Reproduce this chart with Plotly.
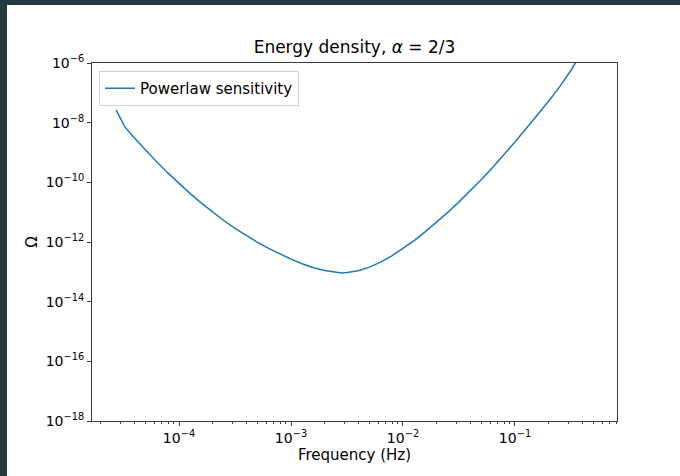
import plotly.graph_objects as go

# Data (log10 of frequency in Hz, log10 of Omega)
log_freq = [-4.563, -4.482, -4.4, -4.3, -4.2, -4.1, -4.0, -3.9, -3.8, -3.7, -3.6, -3.5,
            -3.4, -3.3, -3.2, -3.1, -3.0, -2.9, -2.8, -2.7, -2.6, -2.55, -2.5, -2.4,
            -2.3, -2.2, -2.1, -2.0, -1.9, -1.8, -1.7, -1.6, -1.5, -1.4, -1.3, -1.2,
            -1.1, -1.0, -0.9, -0.8, -0.7, -0.6, -0.5, -0.4, -0.3]
log_omega = [-7.570, -8.151, -8.503, -8.915, -9.309, -9.684, -10.040, -10.378, -10.697,
             -10.998, -11.280, -11.543, -11.788, -12.012, -12.215, -12.400, -12.575,
             -12.730, -12.860, -12.955, -13.015, -13.035, -13.026, -12.962, -12.841,
             -12.673, -12.468, -12.226, -11.955, -11.651, -11.337, -11.005, -10.656,
             -10.290, -9.906, -9.504, -9.084, -8.646, -8.196, -7.746, -7.282, -6.791,
             -6.242, -5.622, -4.970]
freq = [10 ** v for v in log_freq]
omega = [10 ** v for v in log_omega]

x_tickvals = [1e-4, 1e-3, 1e-2, 1e-1]
x_ticktext = ["10<sup>−4</sup>", "10<sup>−3</sup>", "10<sup>−2</sup>", "10<sup>−1</sup>"]
y_tickvals = [1e-6, 1e-8, 1e-10, 1e-12, 1e-14, 1e-16, 1e-18]
y_ticktext = ["10<sup>−6</sup>", "10<sup>−8</sup>", "10<sup>−10</sup>", "10<sup>−12</sup>",
              "10<sup>−14</sup>", "10<sup>−16</sup>", "10<sup>−18</sup>"]

minor_x = [m * 10 ** e for e in range(-5, 1) for m in range(2, 10)]

FONT = "DejaVu Sans"
W, H = 680, 476
L, R, T, B = 92, 63, 63, 55
pw, ph = W - L - R, H - T - B

fig = go.Figure()
fig.add_trace(go.Scatter(x=freq, y=omega, mode="lines", name="Powerlaw sensitivity",
                         line=dict(color="#1f77b4", width=1.5)))

axis_common = dict(showline=True, linecolor="#3a3a3a", linewidth=1, mirror=True,
                   ticks="outside", ticklen=4, tickwidth=1, tickcolor="#3a3a3a",
                   showgrid=False, zeroline=False,
                   tickfont=dict(family=FONT, size=14, color="black"))

fig.update_layout(
    width=W, height=H,
    margin=dict(l=L, r=R, t=T, b=B),
    paper_bgcolor="white", plot_bgcolor="white",
    title=dict(text="Energy density, <i>α</i> = 2/3", x=(L + pw / 2) / W, xanchor="center",
               y=1 - 47 / H, yanchor="middle",
               font=dict(family=FONT, size=17, color="black")),
    xaxis=dict(type="log", range=[-4.777, -0.089], tickmode="array",
               tickvals=x_tickvals, ticktext=x_ticktext,
               title=dict(text="Frequency (Hz)", font=dict(family=FONT, size=15, color="black"),
                          standoff=4),
               minor=dict(tickmode="array", tickvals=minor_x, ticks="outside", ticklen=2,
                          tickcolor="#3a3a3a", showgrid=False),
               **axis_common),
    yaxis=dict(type="log", range=[-18, -6], tickmode="array",
               tickvals=y_tickvals, ticktext=y_ticktext,
               title=dict(text="Ω", font=dict(family=FONT, size=15, color="black"), standoff=4),
               **axis_common),
    legend=dict(x=7 / pw, y=1 - 8 / ph, xanchor="left", yanchor="top",
                bgcolor="rgba(255,255,255,0.8)", bordercolor="#d0d0d0", borderwidth=1,
                font=dict(family=FONT, size=15, color="black")),
    showlegend=True,
)

# dark window border strips (top and left)
dark = "#233a3f"
fig.add_shape(type="rect", xref="paper", yref="paper", x0=-L / pw, x1=(W - L) / pw,
              y0=1 + (T - 5) / ph, y1=1 + T / ph, fillcolor=dark, line=dict(width=0))
fig.add_shape(type="rect", xref="paper", yref="paper", x0=-L / pw, x1=-(L - 7) / pw,
              y0=-B / ph, y1=1 + T / ph, fillcolor=dark, line=dict(width=0))

fig.write_html("out.html")
